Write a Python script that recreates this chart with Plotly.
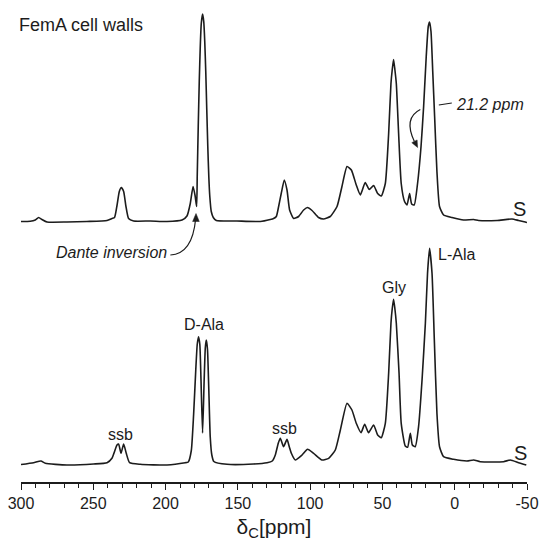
import plotly.graph_objects as go

# ---- data (ppm, intensity above each trace's baseline) ----
ppm_top = [300.0, 293.6, 290.1, 287.8, 285.5, 282.0, 268.2, 254.4, 240.5, 237.1, 235.3, 233.6, 232.0, 230.6,
           229.0, 227.4, 225.6, 222.1, 210.6, 199.0, 188.6, 185.2, 182.9, 181.0, 179.6, 178.5, 178.1, 177.4,
           176.7, 176.0, 175.3, 174.4, 173.6, 172.9, 172.2, 171.5, 170.8, 170.1, 169.4, 168.4, 167.0, 164.9,
           150.6, 134.5, 127.6, 125.3, 123.4, 121.8, 120.0, 117.9, 116.0, 114.2, 111.4, 108.0, 104.5, 101.8,
           98.7, 94.2, 90.7, 86.1, 81.4, 78.0, 74.5, 71.5, 68.1, 65.3, 61.9, 59.1, 56.1, 53.3, 50.8, 48.0,
           45.7, 44.1, 43.2, 42.3, 41.4, 40.4, 38.8, 37.0, 34.7, 33.0, 31.2, 29.8, 28.0, 25.7, 23.3, 21.5,
           19.7, 18.3, 17.4, 16.4, 15.2, 13.9, 12.3, 10.5, 7.7, 1.9, -6.1, -13.1, -16.5, -29.3, -39.6, -44.2,
           -48.8, -50.0]
int_top = [0, 0.2, 1.5, 4, 2, -0.5, -0.5, 0, 1, 3, 4, 16, 30, 34,
           30, 15, 3, 0.5, 0.5, 0, 1.5, 5.5, 18, 35, 26, 15, 45, 95,
           140, 175, 198, 207.5, 200, 180, 150, 112, 75, 45, 25, 10, 4, 1,
           0.5, 0, 2, 3, 5, 15, 28, 41.5, 31.5, 11.5, 3, 5, 11.5, 14,
           11, 4, 2.5, 5, 15, 35, 55, 51.5, 36.5, 26.5, 39, 32, 36, 28, 25.5, 38,
           88, 138, 152, 162, 152, 138, 88, 38, 20, 16.5, 28, 17.5, 16.5, 38, 75, 115,
           165, 195, 199.5, 190, 150, 105, 50, 15, 6.5, 4, 1.5, 2, 1, 1, 2.5, 1,
           -0.5, -1]

ppm_bot = [300.0, 291.3, 286.2, 283.2, 268.2, 249.8, 240.5, 237.1, 233.6, 232.5, 230.8, 229.0, 227.2, 224.9,
           217.5, 199.0, 186.4, 184.3, 182.2, 180.6, 179.1, 178.1, 177.2, 176.3, 175.5, 174.4, 173.3, 172.5,
           171.8, 171.0, 170.1, 169.1, 168.0, 166.6, 157.5, 139.1, 129.8, 126.2, 124.1, 122.0, 120.6, 118.4,
           116.0, 114.4, 113.0, 110.3, 105.6, 101.8, 97.6, 91.8, 87.2, 82.6, 79.1, 74.5, 71.1, 68.1, 64.8,
           62.3, 59.6, 56.1, 53.3, 50.8, 48.0, 45.7, 44.1, 43.2, 42.3, 41.4, 40.4, 38.5, 37.0, 34.2, 32.6,
           30.7, 29.3, 27.3, 25.0, 22.6, 20.3, 18.8, 17.4, 15.7, 14.1, 12.3, 10.5, 7.7, 0.8, -8.5, -13.1,
           -17.7, -33.8, -38.4, -44.2, -49.5]
int_bot = [0, 1.8, 3.5, 1.2, -0.5, 0.5, 1.8, 6.2, 19.5, 20.5, 11.2, 20.5, 11.2, 1.8,
           0.2, -0.5, 1.8, 2.5, 14, 50, 95, 120, 127.8, 120, 85, 31.5, 85, 117,
           124.5, 115, 75, 27.5, 9.5, 3, 0.2, 0.5, 1.8, 3.5, 9.5, 21.5, 26.2, 17.8,
           25.2, 17.5, 11.2, 4.5, 9.5, 15.2, 11.2, 4.5, 6.2, 14.5, 34.5, 61.2, 54.5, 41.2, 31.8,
           40.2, 31.8, 39.5, 29.5, 26.8, 41.2, 91.2, 141.2, 156, 165.2, 156, 141.2, 91.2, 41.2, 18.5, 17.2,
           31.2, 19.5, 17.8, 37.8, 84.5, 141.2, 191.2, 216.2, 191.2, 124.5, 51.2, 17.8, 7.8, 5.2, 3.5, 4.5,
           2.8, 2.8, 4.5, 1.8, -0.5]

tick_vals = [300, 250, 200, 150, 100, 50, 0, -50]
tick_text = ["300", "250", "200", "150", "100", "50", "0", "-50"]

TOP_OFFSET = 260.5
BOT_OFFSET = 17.5

FONT = "Liberation Sans, Arial, Helvetica, sans-serif"
INK = "#1c1c1c"

fig = go.Figure()
fig.add_trace(go.Scatter(x=ppm_top, y=[v + TOP_OFFSET for v in int_top], mode="lines",
                         line=dict(color=INK, width=1.6, shape="spline", smoothing=0.5),
                         hoverinfo="skip", showlegend=False))
fig.add_trace(go.Scatter(x=ppm_bot, y=[v + BOT_OFFSET for v in int_bot], mode="lines",
                         line=dict(color=INK, width=1.6, shape="spline", smoothing=0.5),
                         hoverinfo="skip", showlegend=False))

def label(text, x, y, size=16, xanchor="center"):
    return dict(text=text, x=x, y=y, xref="x", yref="y", showarrow=False, xanchor=xanchor,
                yanchor="middle", font=dict(family=FONT, size=size, color=INK))

annotations = [
    dict(text="FemA cell walls", x=-0.008, y=457.5, xref="paper", yref="y", showarrow=False,
         xanchor="left", yanchor="middle", font=dict(family=FONT, size=18, color=INK)),
    label("<i>Dante inversion</i>", 197.9, 229.2, xanchor="right"),
    label("<i>21.2 ppm</i>", 0.3, 378.0, xanchor="left"),
    label("S", -44.9, 273.2, size=20),
    label("S", -45.3, 29.5, size=20),
    label("D-Ala", 173.7, 157.5),
    label("ssb", 231.5, 47.7),
    label("ssb", 117.7, 53.7),
    label("Gly", 41.9, 194.5),
    label("L-Ala", -1.0, 227.8),
]

shapes = [
    # "Dante inversion" curved arrow
    dict(type="path", xref="x", yref="y", path="M 196.7,227 Q 181.5,228 179.2,263",
         line=dict(color=INK, width=1.2)),
    dict(type="path", xref="x", yref="y", path="M 178.95,268.5 L 181.3,260.5 L 176.7,260.5 Z",
         line=dict(color=INK, width=0.5), fillcolor=INK),
    # "21.2 ppm" curved arrow and leader
    dict(type="path", xref="x", yref="y", path="M 23.8,372.5 Q 35.6,364 27.9,340.5",
         line=dict(color=INK, width=1.2)),
    dict(type="path", xref="x", yref="y", path="M 25.67,334.5 L 29.69,339.35 L 26.02,342.05 Z",
         line=dict(color=INK, width=0.5), fillcolor=INK),
    dict(type="line", xref="x", yref="y", x0=11.0, y0=377, x1=2.0, y1=379,
         line=dict(color=INK, width=1.2)),
]

fig.update_layout(
    width=539, height=551,
    margin=dict(l=21, r=12, t=0, b=69),
    paper_bgcolor="white", plot_bgcolor="white",
    font=dict(family=FONT, color=INK),
    annotations=annotations, shapes=shapes,
    xaxis=dict(range=[300, -50], tickmode="array", tickvals=tick_vals, ticktext=tick_text,
               showline=True, linecolor=INK, linewidth=1.5, mirror=False,
               ticks="outside", ticklen=6, tickwidth=1.4, tickcolor=INK,
               tickfont=dict(family=FONT, size=16, color=INK),
               showgrid=False, zeroline=False, automargin=False,
               minor=dict(tickmode="linear", tick0=0, dtick=10, ticks="outside", ticklen=4,
                          tickwidth=1.2, tickcolor=INK, showgrid=False),
               title=dict(text="δ<sub>C</sub>[ppm]", font=dict(family=FONT, size=21, color=INK),
                          standoff=8)),
    yaxis=dict(range=[0, 482], visible=False, showgrid=False, zeroline=False),
)

fig.write_html("out.html", config={"displayModeBar": False},
               post_script="document.body.style.margin='0';document.body.style.padding='0';")
